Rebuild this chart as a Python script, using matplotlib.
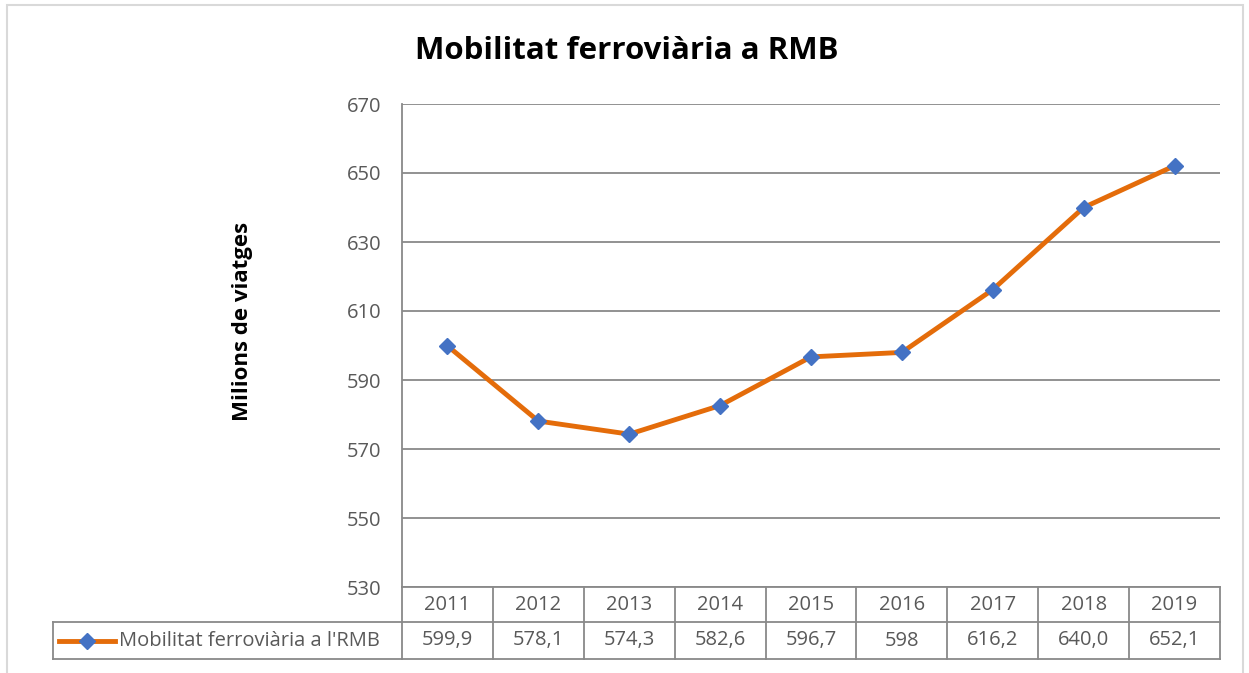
import matplotlib
matplotlib.use("Agg")
import matplotlib.pyplot as plt
from matplotlib.transforms import blended_transform_factory
from matplotlib.lines import Line2D
from matplotlib.patches import Rectangle

years = ["2011", "2012", "2013", "2014", "2015", "2016", "2017", "2018", "2019"]
viatges = [599.9, 578.1, 574.3, 582.6, 596.7, 598, 616.2, 640.0, 652.1]
value_labels = ["599,9", "578,1", "574,3", "582,6", "596,7", "598", "616,2", "640,0", "652,1"]
series_name = "Mobilitat ferroviària a l'RMB"
title = "Mobilitat ferroviària a RMB"
y_ticks = [530, 550, 570, 590, 610, 630, 650, 670]

W, H = 1249, 673
plt.rcParams['font.family'] = ['Open Sans', 'DejaVu Sans']

fig = plt.figure(figsize=(W / 100, H / 100), dpi=100)

def fx(px):
    return px / W

def fy(py):
    return 1 - py / H

# outer chart frame
fig.patches.append(Rectangle((fx(7), fy(700)), fx(1243) - fx(7), fy(5) - fy(700),
                             transform=fig.transFigure, fill=False,
                             edgecolor="#d9d9d9", linewidth=1.5))

left, right, top, bottom = 402, 1220, 104, 587
ax = fig.add_axes([fx(left), fy(bottom), fx(right) - fx(left), fy(top) - fy(bottom)])

orange = "#e46c0a"
blue = "#4472c4"
gray_line = "#898989"
text_gray = "#595959"
fs = 14.5

x = list(range(len(years)))
ax.plot(x, viatges, color=orange, linewidth=3.5, marker="D", markersize=8.5,
        markerfacecolor=blue, markeredgecolor=blue, zorder=3)

ax.set_xlim(-0.5, len(years) - 0.5)
ax.set_ylim(530, 670)
ax.set_yticks(y_ticks)
ax.set_yticklabels([str(t) for t in y_ticks], fontsize=fs, color=text_gray)
ax.tick_params(axis="y", length=0, pad=15)
ax.set_xticks([])
ax.grid(axis="y", color=gray_line, linewidth=1.3)
ax.set_axisbelow(True)
for side in ["top", "right", "bottom"]:
    ax.spines[side].set_visible(False)
ax.spines["left"].set_color(gray_line)
ax.spines["left"].set_linewidth(1.3)

ax.set_ylabel("Milions de viatges", fontsize=16, fontweight="bold")
ax.yaxis.set_label_coords((253 - left) / (right - left), (587 - 321) / (587 - 104))
fig.text(fx(627), fy(51), title, fontsize=22.5, fontweight="bold", ha="center", va="center")

# data table under the axis
tr = blended_transform_factory(ax.transData, fig.transFigure)
row1_top, row1_bot, row2_bot = fy(587), fy(622), fy(659)
n = len(years)
lkw = dict(color=gray_line, linewidth=1.3, clip_on=False)

fig.lines.append(Line2D([-0.5, n - 0.5], [row1_top, row1_top], transform=tr, **lkw))
fig.lines.append(Line2D([-0.5, n - 0.5], [row1_bot, row1_bot], transform=tr, **lkw))
fig.lines.append(Line2D([-0.5, n - 0.5], [row2_bot, row2_bot], transform=tr, **lkw))
for i in range(n + 1):
    fig.lines.append(Line2D([i - 0.5, i - 0.5], [row1_top, row2_bot], transform=tr, **lkw))
for i in range(n):
    fig.text(i, (row1_top + row1_bot) / 2, years[i], transform=tr, ha="center", va="center",
             fontsize=fs, color=text_gray)
    fig.text(i, (row1_bot + row2_bot) / 2, value_labels[i], transform=tr, ha="center", va="center",
             fontsize=fs, color=text_gray)

# legend cell
fig.lines.append(Line2D([fx(53), fx(402)], [row1_bot, row1_bot], transform=fig.transFigure, color=gray_line, linewidth=1.3))
fig.lines.append(Line2D([fx(53), fx(402)], [row2_bot, row2_bot], transform=fig.transFigure, color=gray_line, linewidth=1.3))
fig.lines.append(Line2D([fx(53), fx(53)], [row1_bot, row2_bot], transform=fig.transFigure, color=gray_line, linewidth=1.3))
ymid = (row1_bot + row2_bot) / 2
fig.lines.append(Line2D([fx(59), fx(115)], [ymid, ymid], transform=fig.transFigure, color=orange, linewidth=3.5))
fig.lines.append(Line2D([fx(87)], [ymid], transform=fig.transFigure, marker="D", markersize=8.5,
                        markerfacecolor=blue, markeredgecolor=blue, linestyle="none"))
fig.text(fx(119), ymid, series_name, ha="left", va="center", fontsize=fs, color=text_gray)

fig.savefig("out.png", dpi=100)
